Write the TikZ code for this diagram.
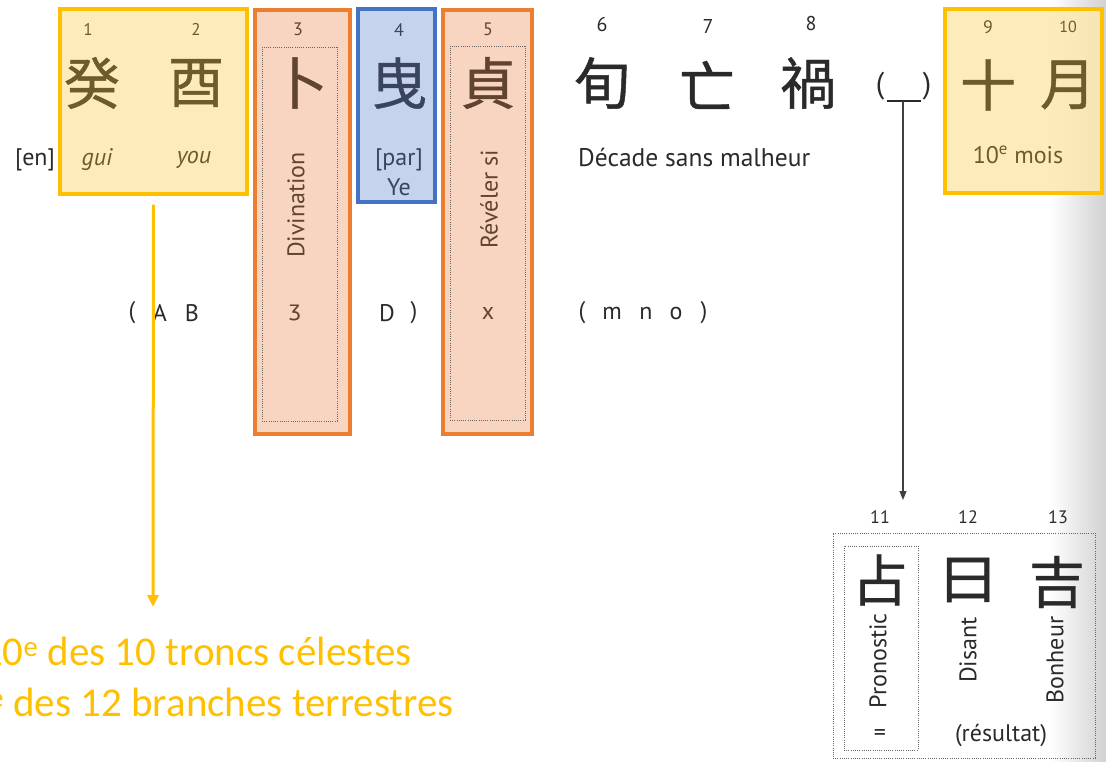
\documentclass[tikz,border=0pt]{standalone}
\usepackage{fontspec}
\setmainfont{PT Sans}
\newfontfamily\cjk[FakeBold=0.8]{Noto Sans CJK TC}
\newfontfamily\calib{Carlito}
\newfontfamily\dvs{DejaVu Sans}
\usetikzlibrary{arrows.meta}
\definecolor{yborder}{RGB}{255,192,0}
\definecolor{yfill}{RGB}{253,233,175}
\definecolor{oborder}{RGB}{237,125,49}
\definecolor{ofill}{RGB}{248,213,192}
\definecolor{bborder}{RGB}{68,114,196}
\definecolor{bfill}{RGB}{197,211,236}
\definecolor{ytext}{RGB}{108,92,42}
\definecolor{otext}{RGB}{96,68,48}
\definecolor{btext}{RGB}{58,68,94}
\definecolor{gtext}{RGB}{42,42,42}
\definecolor{dotc}{RGB}{110,100,95}
\tikzset{
  ybox/.style={draw=yborder, fill=yfill, fill opacity=0.85, line width=3.5pt, inner sep=0, rectangle},
  obox/.style={draw=oborder, fill=ofill, line width=3.5pt, inner sep=0, rectangle},
  bbox/.style={draw=bborder, fill=bfill, line width=3.5pt, inner sep=0, rectangle},
  dotbox/.style={draw=dotc, line width=0.9pt, dash pattern=on 0.9pt off 1.3pt, inner sep=0, rectangle},
  lab/.style={font=\fontsize{24}{28}\selectfont, text=gtext, inner sep=0},
  num/.style={font=\fontsize{18}{21}\selectfont, text=gtext, inner sep=0},
  han/.style={font=\cjk\fontsize{56}{62}\selectfont, text=gtext, inner sep=0},
  otxt/.style={font=\calib\fontsize{41}{48}\selectfont, text=yborder, inner sep=0},
  yarrow/.style={draw=yborder, line width=3pt, -{Triangle[length=12pt,width=11pt]}},
  garrow/.style={draw=gtext!90, line width=1.3pt, -{Triangle[length=9pt,width=7pt]}},
}
\begin{document}
\begin{tikzpicture}[x=1pt,y=-1pt]
\useasboundingbox (0,0) rectangle (1106,762);
\clip (0,0) rectangle (1106,762);
% paper edge shading
\shade[left color=white, right color=black!18] (1050,0) rectangle (1106,762);

% boxes
\node[ybox, minimum width=187pt, minimum height=185pt] (b12) at (153.5,101.5) {};
\node[obox, minimum width=95pt, minimum height=424pt] (b3) at (302.5,222) {};
\node[bbox, minimum width=77pt, minimum height=193pt] (b4) at (396.5,105.5) {};
\node[obox, minimum width=89pt, minimum height=424pt] (b5) at (487.5,222) {};
\node[ybox, minimum width=157pt, minimum height=184pt] (b910) at (1023.5,101) {};
\node[dotbox, minimum width=75pt, minimum height=374pt] (d3) at (299.5,234) {};
\node[dotbox, minimum width=75pt, minimum height=374pt] (d5) at (487.5,233) {};
\node[dotbox, minimum width=262pt, minimum height=225pt] (res) at (964,645.5) {};
\node[dotbox, minimum width=74pt, minimum height=204pt] (d11) at (881,648) {};

% numbers
\node[num, text=ytext, font=\fontsize{17}{20}\selectfont] (n1) at (88,29) {1};
\node[num, text=ytext, font=\fontsize{17}{20}\selectfont] (n2) at (196,29) {2};
\node[num, text=otext] (n3) at (298,29) {3};
\node[num, text=btext] (n4) at (399,30) {4};
\node[num, text=otext] (n5) at (488,29) {5};
\node[num, font=\fontsize{20}{24}\selectfont] (n6) at (602,25) {6};
\node[num, font=\fontsize{20}{24}\selectfont] (n7) at (708,27) {7};
\node[num, font=\fontsize{20}{24}\selectfont] (n8) at (811,24) {8};
\node[num, text=ytext] (n9) at (988,27) {9};
\node[num, text=ytext, font=\fontsize{16}{19}\selectfont] (n10) at (1068,27) {10};
\node[num] (n11) at (880,517) {11};
\node[num] (n12) at (968,517) {12};
\node[num] (n13) at (1058,517) {13};

% characters
\node[han, text=ytext] (c1) at (92,83) {癸};
\node[han, text=ytext] (c2) at (196,83) {酉};
\node[han, text=otext] (c3) at (300,83) {卜};
\node[han, text=btext] (c4) at (399,83) {曳};
\node[han, text=otext] (c5) at (488,83) {貞};
\node[han] (c6) at (602,83) {旬};
\node[han] (c7) at (707,85) {亡};
\node[han] (c8) at (808,83) {禍};
\node[han, text=ytext] (c9) at (988,85) {十};
\node[han, text=ytext] (c10) at (1068,85) {月};
\node[han] (c11) at (880,580) {占};
\node[han] (c12) at (968,580) {曰};
\node[han] (c13) at (1057,582) {吉};

% blank slot
\node[lab, font=\fontsize{30}{34}\selectfont] (lp) at (880,86) {(};
\node[lab, font=\fontsize{30}{34}\selectfont] (rp) at (927,86) {)};
\coordinate (barL) at (887,101);
\coordinate (barR) at (921,101);
\coordinate (barM) at (903,101);
\coordinate (arrEnd) at (903,500);
\draw[gtext, line width=1.6pt] (barL) -- (barR);
\draw[garrow] (barM) -- (arrEnd);

% glosses
\node[lab] (en) at (35,160) {[en]};
\node[lab, text=ytext, font=\itshape\fontsize{24}{28}\selectfont] (g1) at (97,160) {gui};
\node[lab, text=ytext, font=\itshape\fontsize{24}{28}\selectfont] (g2) at (194,160) {you};
\node[lab, text=otext, rotate=90] (g3) at (296,205) {Divination};
\node[lab, text=btext] (g4a) at (399,160) {[par]};
\node[lab, text=btext] (g4b) at (399,187) {Ye};
\node[lab, text=otext, rotate=90] (g5) at (489,199) {Révéler si};
\node[lab, anchor=west, font=\fontsize{25.5}{30}\selectfont] (g68) at (578,157) {Décade sans malheur};
\node[lab, text=ytext] (g910) at (1018,155) {10\textsuperscript{e} mois};

% letters row
\node[lab] (l1) at (132,313) {(};
\node[lab] (lA) at (160,313) {A};
\node[lab] (lB) at (192,313) {B};
\node[lab, text=otext, font=\dvs\fontsize{21}{24}\selectfont] (lC) at (295,313) {ʒ};
\node[lab] (lD) at (387,313) {D};
\node[lab] (l2) at (414,313) {)};
\node[lab, text=otext] (lX) at (488,313) {x};
\node[lab] (l3) at (582,313) {(};
\node[lab] (lm) at (612,313) {m};
\node[lab] (ln) at (646,313) {n};
\node[lab] (lo) at (676,313) {o};
\node[lab] (l4) at (704,313) {)};

% result box glosses
\node[lab, rotate=90] (p11) at (878,661) {Pronostic};
\node[lab] (eq) at (880,735) {=};
\node[lab, rotate=90] (p12) at (968,650) {Disant};
\node[lab, rotate=90] (p13) at (1055,660) {Bonheur};
\node[lab] (p14) at (1001,735) {(résultat)};

% yellow arrow and explanation
\coordinate (yEnd) at (153,607);
\draw[yarrow] ([yshift=-9pt]b12.south) -- (yEnd);
\node[otxt, anchor=east] (t1) at (412,651) {10\textsuperscript{e} des 10 troncs célestes};
\node[otxt, anchor=east] (t2) at (454,702) {10\textsuperscript{e} des 12 branches terrestres};
\end{tikzpicture}
\end{document}
